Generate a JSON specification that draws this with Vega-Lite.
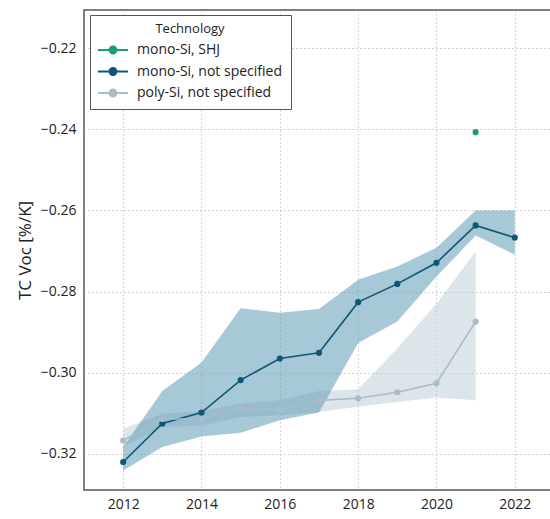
{
  "$schema": "https://vega.github.io/schema/vega-lite/v6.json",
  "width": 468,
  "height": 480,
  "autosize": {"type": "none"},
  "padding": {"left": 84, "top": 10, "right": 0, "bottom": 29},
  "background": "white",
  "config": {
    "font": "Open Sans",
    "view": {"stroke": "#555555", "strokeWidth": 1.5},
    "axis": {
      "labelFont": "Open Sans",
      "labelFontSize": 14,
      "labelColor": "#222222",
      "titleFont": "Open Sans",
      "titleFontWeight": "normal",
      "titleColor": "#222222",
      "domain": false,
      "ticks": false,
      "grid": true,
      "gridColor": "#a8a8a8",
      "gridDash": [1, 3],
      "gridWidth": 1
    }
  },
  "datasets": {
    "tc": [
      {"year": 2012, "tech": "mono-Si, not specified", "value": -0.3220, "lo": -0.3241, "hi": -0.3183},
      {"year": 2013, "tech": "mono-Si, not specified", "value": -0.3125, "lo": -0.3183, "hi": -0.3045},
      {"year": 2014, "tech": "mono-Si, not specified", "value": -0.3098, "lo": -0.3157, "hi": -0.2975},
      {"year": 2015, "tech": "mono-Si, not specified", "value": -0.3018, "lo": -0.3148, "hi": -0.2841},
      {"year": 2016, "tech": "mono-Si, not specified", "value": -0.2965, "lo": -0.3117, "hi": -0.2852},
      {"year": 2017, "tech": "mono-Si, not specified", "value": -0.2951, "lo": -0.3098, "hi": -0.2843},
      {"year": 2018, "tech": "mono-Si, not specified", "value": -0.2826, "lo": -0.2927, "hi": -0.2771},
      {"year": 2019, "tech": "mono-Si, not specified", "value": -0.2781, "lo": -0.2874, "hi": -0.2738},
      {"year": 2020, "tech": "mono-Si, not specified", "value": -0.2729, "lo": -0.2763, "hi": -0.2692},
      {"year": 2021, "tech": "mono-Si, not specified", "value": -0.2637, "lo": -0.2662, "hi": -0.2600},
      {"year": 2022, "tech": "mono-Si, not specified", "value": -0.2667, "lo": -0.2709, "hi": -0.2600},
      {"year": 2012, "tech": "poly-Si, not specified", "value": -0.3167, "lo": -0.3183, "hi": -0.3138},
      {"year": 2013, "tech": "poly-Si, not specified", "value": -0.3114, "lo": -0.3134, "hi": -0.3101},
      {"year": 2014, "tech": "poly-Si, not specified", "value": -0.3114, "lo": -0.3130, "hi": -0.3095},
      {"year": 2015, "tech": "poly-Si, not specified", "value": -0.3087, "lo": -0.3109, "hi": -0.3076},
      {"year": 2016, "tech": "poly-Si, not specified", "value": -0.3091, "lo": -0.3105, "hi": -0.3068},
      {"year": 2017, "tech": "poly-Si, not specified", "value": -0.3068, "lo": -0.3097, "hi": -0.3045},
      {"year": 2018, "tech": "poly-Si, not specified", "value": -0.3063, "lo": -0.3084, "hi": -0.3041},
      {"year": 2019, "tech": "poly-Si, not specified", "value": -0.3048, "lo": -0.3072, "hi": -0.2940},
      {"year": 2020, "tech": "poly-Si, not specified", "value": -0.3026, "lo": -0.3061, "hi": -0.2830},
      {"year": 2021, "tech": "poly-Si, not specified", "value": -0.2874, "lo": -0.3068, "hi": -0.2701},
      {"year": 2021, "tech": "mono-Si, SHJ", "value": -0.2407, "lo": null, "hi": null}
    ]
  },
  "data": {"name": "tc"},
  "encoding": {
    "x": {
      "field": "year",
      "type": "quantitative",
      "scale": {"domain": [2011.0, 2022.95], "nice": false, "zero": false},
      "axis": {"values": [2012, 2014, 2016, 2018, 2020, 2022], "format": "d", "title": null, "labelPadding": 7}
    }
  },
  "layer": [
    {
      "transform": [{"filter": "datum.tech === 'poly-Si, not specified'"}],
      "mark": {"type": "area", "color": "#b8cbd5", "opacity": 0.5},
      "encoding": {
        "y": {"field": "lo", "type": "quantitative"},
        "y2": {"field": "hi"}
      }
    },
    {
      "transform": [{"filter": "datum.tech === 'mono-Si, not specified'"}],
      "mark": {"type": "area", "color": "#5e9bb5", "opacity": 0.55},
      "encoding": {
        "y": {"field": "lo", "type": "quantitative"},
        "y2": {"field": "hi"}
      }
    },
    {
      "mark": {"type": "line", "strokeWidth": 1.6},
      "encoding": {
        "y": {
          "field": "value",
          "type": "quantitative",
          "scale": {"domain": [-0.3289, -0.2106], "nice": false, "zero": false},
          "axis": {
            "values": [-0.32, -0.30, -0.28, -0.26, -0.24, -0.22],
            "format": ".2f",
            "title": "TC Voc [%/K]",
            "titleFontSize": 17,
            "titlePadding": 6,
            "labelPadding": 8
          }
        },
        "color": {
          "field": "tech",
          "type": "nominal",
          "scale": {
            "domain": ["mono-Si, SHJ", "mono-Si, not specified", "poly-Si, not specified"],
            "range": ["#1a9e78", "#0d5676", "#a9bcc8"]
          },
          "legend": {
            "title": "Technology",
            "orient": "none",
            "legendX": 6,
            "legendY": 5,
            "direction": "vertical",
            "titleFont": "Open Sans",
            "titleFontSize": 13,
            "titleFontWeight": "normal",
            "titleColor": "#222222",
            "titleAnchor": "middle",
            "titleAlign": "center",
            "titlePadding": 4,
            "labelFont": "Open Sans",
            "labelFontSize": 14,
            "labelColor": "#222222",
            "labelOffset": 14,
            "symbolOffset": 5,
            "symbolType": "M-1.67,0H1.67M0.38,0A0.38,0.38 0 1,1 -0.38,0A0.38,0.38 0 1,1 0.38,0Z",
            "symbolSize": 324,
            "symbolStrokeWidth": 2,
            "rowPadding": 3.5,
            "padding": 8,
            "strokeColor": "#555555",
            "fillColor": "white",
            "encode": {
              "symbols": {
                "update": {
                  "fill": {"scale": "color", "field": "value"},
                  "stroke": {"scale": "color", "field": "value"},
                  "opacity": {"value": 1}
                }
              }
            }
          }
        }
      }
    },
    {
      "mark": {"type": "point", "filled": true, "size": 38, "opacity": 1},
      "encoding": {
        "y": {"field": "value", "type": "quantitative"},
        "color": {"field": "tech", "type": "nominal"}
      }
    }
  ]
}
